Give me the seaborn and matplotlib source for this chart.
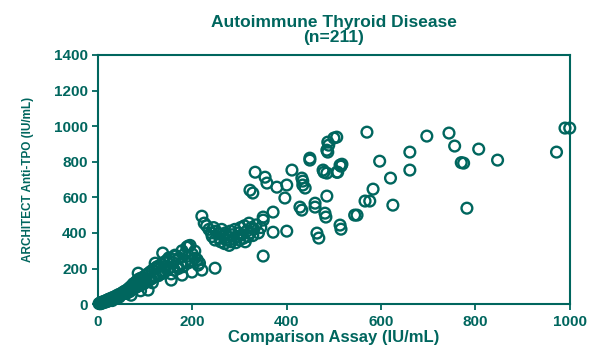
import pandas as pd
import matplotlib
matplotlib.use("Agg")
import matplotlib.pyplot as plt
import seaborn as sns

"""
Dados lidos do gráfico
"""
teal = "#00665e"

# faixa baixa (0 - 250 IU/mL)
x_baixo = [2, 4, 5, 6, 8, 9, 10, 12, 13, 15, 16, 18, 19, 20, 22, 23, 25, 26, 28, 29,
           30, 32, 33, 35, 36, 38, 40, 41, 43, 45, 46, 48, 50, 52, 53, 55, 57, 58, 60, 62,
           63, 65, 67, 68, 70, 72, 74, 75, 77, 79, 80, 82, 84, 86, 88, 90, 92, 95, 97, 100,
           102, 105, 108, 110, 112, 115, 118, 120, 122, 125, 128, 130, 132, 135, 138, 140,
           142, 145, 148, 150, 152, 155, 158, 160, 162, 165, 168, 170, 172, 175, 178, 180,
           183, 185, 188, 190, 192, 195, 198, 200, 205, 210, 215, 248, 85, 127, 106, 137,
           163, 191, 60, 45, 30, 137, 155, 220, 199, 178, 212, 121, 205, 70, 90, 115]
y_baixo = [3, 6, 2, 8, 5, 12, 8, 14, 10, 18, 12, 20, 15, 24, 18, 28, 22, 30, 25, 34,
           28, 38, 32, 40, 35, 45, 42, 50, 46, 55, 50, 58, 55, 65, 60, 70, 64, 75, 68, 80,
           72, 88, 70, 95, 80, 105, 85, 115, 90, 120, 95, 130, 100, 140, 105, 145, 110, 150, 115, 160,
           125, 170, 135, 180, 140, 190, 150, 200, 155, 210, 160, 215, 170, 225, 175, 235,
           185, 245, 195, 260, 205, 170, 235, 250, 190, 270, 215, 200, 260, 225, 300, 210,
           280, 240, 320, 230, 270, 330, 245, 280, 258, 250, 230, 202, 174, 208, 79, 287,
           275, 326, 60, 40, 20, 174, 135, 191, 180, 163, 219, 230, 298, 50, 75, 120]

# faixa intermediária (220 - 400 IU/mL)
x_meio = [220, 225, 230, 235, 240, 242, 245, 248, 250, 255, 258, 260, 262, 265, 268,
          270, 272, 275, 278, 280, 282, 285, 288, 290, 292, 295, 298, 300, 302, 305,
          308, 310, 312, 315, 318, 320, 322, 325, 328, 330, 335, 340, 345, 350, 350,
          350, 371, 371, 400]
y_meio = [494, 455, 440, 420, 400, 380, 430, 360, 410, 395, 370, 350, 420, 385, 340,
          400, 360, 375, 330, 410, 350, 390, 365, 420, 345, 380, 400, 360, 430, 390,
          370, 440, 350, 410, 380, 455, 400, 430, 385, 420, 445, 400, 430, 472, 489,
          270, 517, 404, 410]

# faixa alta (320 - 550 IU/mL)
x_alto = [322, 328, 333, 354, 358, 379, 400, 396, 411, 432, 434, 449, 477, 485, 506,
          513, 485, 487, 506, 428, 460, 485, 481, 513, 544, 464, 434, 439, 432, 460,
          483, 515, 468, 489, 500, 487, 479, 508, 515, 449]
y_alto = [640, 624, 741, 713, 680, 657, 669, 596, 753, 708, 669, 820, 753, 736, 741,
          781, 865, 910, 938, 545, 567, 607, 511, 444, 500, 399, 691, 652, 528, 545,
          489, 421, 371, 893, 933, 854, 741, 741, 775, 809]

# faixa > 550 IU/mL
x_topo = [570, 697, 744, 756, 807, 1000, 990, 972, 847, 775, 770, 661, 597, 517, 661,
          620, 583, 576, 566, 625, 782, 549]
y_topo = [966, 944, 961, 888, 871, 989, 989, 854, 809, 792, 795, 854, 803, 786, 753,
          708, 646, 579, 579, 556, 539, 500]

df = pd.DataFrame({
    "x": x_baixo + x_meio + x_alto + x_topo,
    "y": y_baixo + y_meio + y_alto + y_topo,
})

"""
Gráfico
"""
sns.set_style("white")
plt.rcParams["font.family"] = ["Liberation Sans", "DejaVu Sans"]
plt.rcParams["font.weight"] = "bold"

fig = plt.figure(figsize=(5.91, 3.52), dpi=100)
ax = fig.add_axes([0.166, 0.136, 0.798, 0.708])

sns.scatterplot(data=df, x="x", y="y", ax=ax, marker="o", s=60,
                facecolors="none", edgecolor=teal, linewidth=1.7, clip_on=False)

ax.set_xlim(0, 1000)
ax.set_ylim(0, 1400)
ax.set_xticks(range(0, 1001, 200))
ax.set_yticks(range(0, 1401, 200))

for s in ax.spines.values():
    s.set_color(teal)
    s.set_linewidth(1.5)

ax.tick_params(axis="both", colors=teal, labelsize=11, direction="out",
               length=4, width=1.3, left=True, bottom=True)
for lab in ax.get_xticklabels() + ax.get_yticklabels():
    lab.set_fontweight("heavy")

ax.set_xlabel("Comparison Assay (IU/mL)", color=teal, fontsize=12,
              fontweight="heavy", labelpad=1)
ax.set_ylabel("ARCHITECT Anti-TPO (IU/mL)", color=teal, fontsize=8.5,
              fontweight="heavy", labelpad=14)
ax.set_title("Autoimmune Thyroid Disease\n(n=211)", color=teal, fontsize=12.5,
             fontweight="heavy", pad=9, linespacing=1.05)

fig.savefig("out.png", dpi=100)
